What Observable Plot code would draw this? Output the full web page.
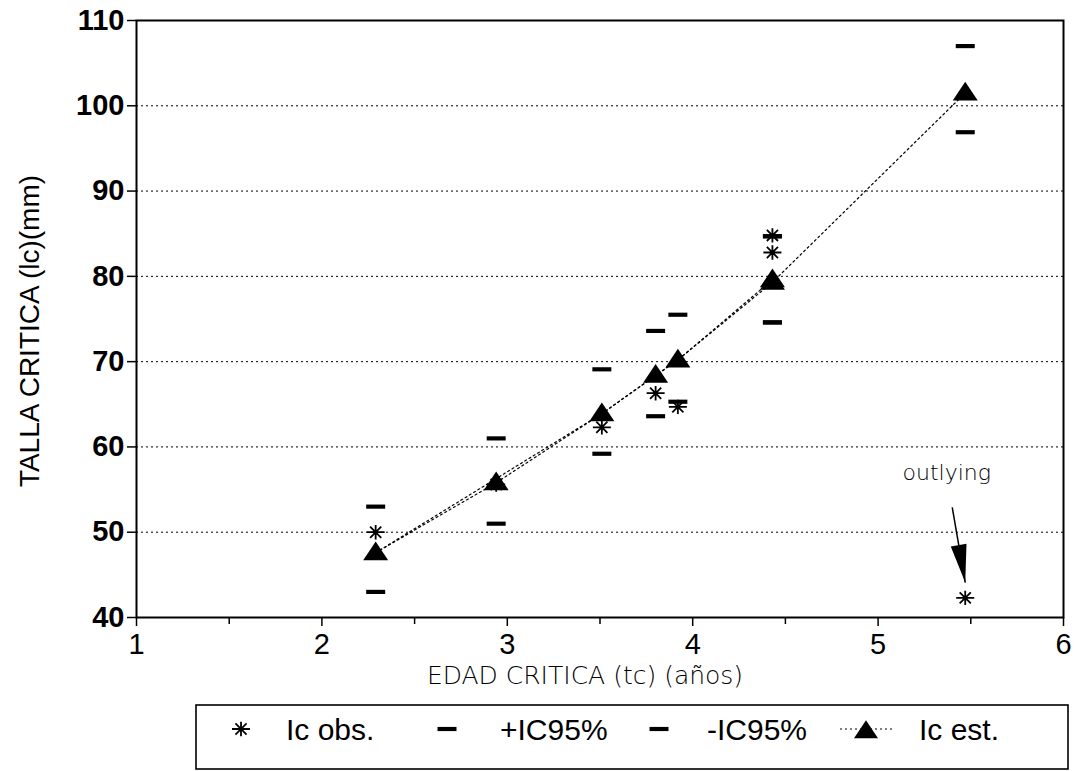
<!DOCTYPE html>
<html><head><meta charset="utf-8">
<script src="https://cdn.jsdelivr.net/npm/d3@7"></script>
<script src="https://cdn.jsdelivr.net/npm/@observablehq/plot@0.6"></script>
<style>
body{margin:0;background:#fff;}
#wrap{position:relative;width:1075px;height:771px;overflow:hidden;}
#legend{position:absolute;left:0;top:704px;}
</style></head><body><div id="wrap"></div>
<script>
// ---- data ----
const edad  = [2.29, 2.94, 3.51, 3.80, 3.92, 4.43, 4.43, 5.47];
const lcObs = [50.0, 55.6, 62.3, 66.3, 64.7, 84.8, 82.8, 42.3];
const icSup = [53.0, 61.0, 69.1, 73.6, 75.5, 84.7, 84.7, 107.0];
const icInf = [43.0, 51.0, 59.2, 63.6, 65.3, 74.6, 74.6, 96.9];
const lcEst = [47.6, 55.8, 63.9, 68.4, 70.2, 79.3, 79.6, 101.5];
// order in which the estimated curves join the points (two traced lines)
const estLineA = [0, 1, 2, 3, 4, 5, 7];
const estLineB = [0, 2, 4, 6];
const xTicks = [1, 2, 3, 4, 5, 6];
const xMinorTicks = [1.5, 2.5, 3.5, 4.5, 5.5];
const yTicks = [40, 50, 60, 70, 80, 90, 100, 110];
const yGrid = [50, 60, 70, 80, 90, 100];
const xLabel = "EDAD CRITICA (tc) (años)";
const yLabel = "TALLA CRITICA (lc)(mm)";
const outlierNote = {x: 5.37, y: 57.0, text: "outlying"};
const outlierArrow = {x1: 5.40, y1: 52.9, x2: 5.47, y2: 44.1};
const legendItems = ["Ic obs.", "+IC95%", "-IC95%", "Ic est."];

const rows = edad.map((x, i) => ({x, obs: lcObs[i], sup: icSup[i], inf: icInf[i], est: lcEst[i]}));
const lineA = estLineA.map(i => rows[i]);
const lineB = estLineB.map(i => rows[i]);

// ---- symbols ----
const asteriskSym = {draw(ctx, size) {
  const r = Math.sqrt(size / Math.PI), d = r * 0.62, v = r * 0.8;
  ctx.moveTo(-r, 0); ctx.lineTo(r, 0);
  ctx.moveTo(0, -v); ctx.lineTo(0, v);
  ctx.moveTo(-d, -d); ctx.lineTo(d, d);
  ctx.moveTo(-d, d); ctx.lineTo(d, -d);
}};
const dashSym = {draw(ctx, size) {
  const r = Math.sqrt(size / Math.PI), h = r * 0.22;
  ctx.moveTo(-r, -h); ctx.lineTo(r, -h); ctx.lineTo(r, h); ctx.lineTo(-r, h); ctx.closePath();
}};
const triSym = {draw(ctx, size) {
  const r = Math.sqrt(size / Math.PI);
  ctx.moveTo(0, -r * 0.9); ctx.lineTo(r, r * 0.6); ctx.lineTo(-r, r * 0.6); ctx.closePath();
}};
const headSym = {draw(ctx, size) {
  const r = Math.sqrt(size / Math.PI);
  ctx.moveTo(0, 0); ctx.lineTo(r * 0.42, -r * 2); ctx.lineTo(-r * 0.42, -r * 2); ctx.closePath();
}};

const W = 1075, H = 704;
const mL = 136, mR = 12, mT = 20, mB = 87;
const dotted = "2,3";

const chart = Plot.plot({
  width: W, height: H,
  marginLeft: mL, marginRight: mR, marginTop: mT, marginBottom: mB,
  x: {domain: [1, 6]},
  y: {domain: [40, 110]},
  style: {fontFamily: "'Liberation Sans', Arial, sans-serif", color: "#000", background: "#fff", overflow: "visible"},
  marks: [
    Plot.gridY(yGrid, {stroke: "#000", strokeOpacity: 1, strokeWidth: 1, strokeDasharray: dotted}),
    Plot.axisY(yTicks, {tickSize: 9, tickPadding: 3, fontSize: 29, fontWeight: "bold", label: null, strokeWidth: 1.5}),
    Plot.axisX(xTicks, {tickSize: 9, tickPadding: 7, fontSize: 29, label: null, strokeWidth: 1.5, tickFormat: d => String(d)}),
    Plot.axisX(xMinorTicks, {tickSize: 7, tickFormat: () => "", label: null, strokeWidth: 1.5}),
    Plot.frame({stroke: "#000", strokeWidth: 2}),
    Plot.line(lineA, {x: "x", y: "est", stroke: "#000", strokeWidth: 1.2, strokeDasharray: dotted}),
    Plot.line(lineB, {x: "x", y: "est", stroke: "#000", strokeWidth: 1.2, strokeDasharray: dotted}),
    Plot.dot(rows, {x: "x", y: "sup", symbol: dashSym, r: 9.5, fill: "#000", stroke: "none"}),
    Plot.dot(rows, {x: "x", y: "inf", symbol: dashSym, r: 9.5, fill: "#000", stroke: "none"}),
    Plot.dot(rows, {x: "x", y: "obs", symbol: asteriskSym, r: 9, fill: "none", stroke: "#000", strokeWidth: 1.8}),
    Plot.dot(rows, {x: "x", y: "obs", r: 2.2, fill: "#000", stroke: "none"}),
    Plot.dot(rows, {x: "x", y: "est", symbol: triSym, r: 12.5, fill: "#000", stroke: "none"}),
    Plot.link([outlierArrow], {x1: "x1", y1: "y1", x2: "x2", y2: "y2", stroke: "#000", strokeWidth: 1.5}),
    Plot.dot([outlierArrow], {x: "x2", y: "y2", symbol: headSym, r: 19, rotate: -10, fill: "#000", stroke: "none"}),
    Plot.text([outlierNote], {x: "x", y: "y", text: "text", fontSize: 22, fill: "#000", fontFamily: "'DejaVu Sans', sans-serif", fontWeight: 300}),
    Plot.text([yLabel], {frameAnchor: "left", text: d => d, rotate: -90, dx: -106, dy: 12, textAnchor: "middle", fontSize: 28, fill: "#000"}),
    Plot.text([xLabel], {frameAnchor: "bottom", text: d => d, dx: -15, dy: 66, textAnchor: "middle", fontSize: 25, fill: "#000", fontFamily: "'DejaVu Sans', sans-serif", fontWeight: 300})
  ]
});
const wrap = document.getElementById("wrap");
wrap.appendChild(chart);

// ---- legend (below the chart) ----
const lg = d3.select(wrap).append("svg").attr("id", "legend")
  .attr("width", W).attr("height", 67)
  .style("font-family", "'Liberation Sans', Arial, sans-serif");
lg.append("rect").attr("x", 196).attr("y", 1).attr("width", 872).attr("height", 64)
  .attr("fill", "none").attr("stroke", "#000").attr("stroke-width", 1.6);
const cy = 25;
const sym = (type, r) => d3.symbol().type(type).size(Math.PI * r * r)();
lg.append("path").attr("d", sym(asteriskSym, 9)).attr("transform", `translate(241,${cy})`)
  .attr("fill", "none").attr("stroke", "#000").attr("stroke-width", 1.8);
lg.append("circle").attr("cx", 241).attr("cy", cy).attr("r", 2.2).attr("fill", "#000");
lg.append("path").attr("d", sym(dashSym, 9.5)).attr("transform", `translate(447,${cy})`).attr("fill", "#000");
lg.append("path").attr("d", sym(dashSym, 9.5)).attr("transform", `translate(659,${cy})`).attr("fill", "#000");
lg.append("line").attr("x1", 840).attr("x2", 893).attr("y1", cy).attr("y2", cy)
  .attr("stroke", "#000").attr("stroke-width", 1.2).attr("stroke-dasharray", dotted);
lg.append("path").attr("d", sym(triSym, 12)).attr("transform", `translate(866,${cy + 2})`).attr("fill", "#000");
const textX = [286, 500, 707, 919];
legendItems.forEach((t, i) => {
  lg.append("text").attr("x", textX[i]).attr("y", cy).attr("dy", "0.36em")
    .attr("font-size", 30).attr("fill", "#000").text(t);
});
</script>
</body></html>
